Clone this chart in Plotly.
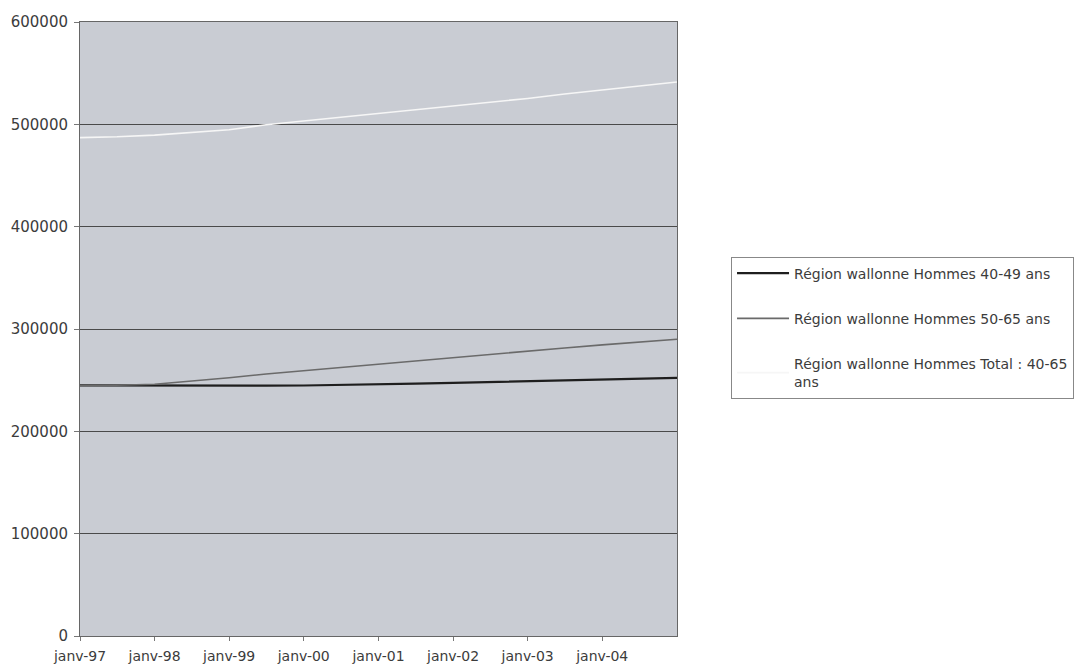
import plotly.graph_objects as go

dates = ["1997-01-01", "1997-07-01", "1998-01-01", "1998-07-01", "1999-01-01",
         "1999-07-01", "2000-01-01", "2000-07-01", "2001-01-01", "2001-07-01",
         "2002-01-01", "2002-07-01", "2003-01-01", "2003-07-01", "2004-01-01",
         "2004-07-01", "2005-01-01"]

hommes_40_49 = [245000, 244800, 244600, 244500, 244500, 244600, 244800, 245200,
                246000, 246700, 247400, 248200, 249000, 249800, 250500, 251200, 252300]

hommes_50_65 = [244800, 245000, 246000, 249000, 252300, 256000, 259300, 262200,
                265500, 269000, 272300, 275500, 278500, 281500, 284500, 287300, 290000]

hommes_total = [487000, 487800, 489500, 491800, 494700, 499600, 503300, 507100,
                510600, 514500, 518600, 521700, 525300, 529700, 533500, 536800, 541300]

tick_vals = ["1997-01-01", "1998-01-01", "1999-01-01", "2000-01-01",
             "2001-01-01", "2002-01-01", "2003-01-01", "2004-01-01"]
tick_text = ["janv-97", "janv-98", "janv-99", "janv-00",
             "janv-01", "janv-02", "janv-03", "janv-04"]

names = ["Région wallonne Hommes 40-49 ans",
         "Région wallonne Hommes 50-65 ans",
         "Région wallonne Hommes Total : 40-65<br>ans"]

fig = go.Figure()
fig.add_trace(go.Scatter(x=dates, y=hommes_40_49, mode="lines", name=names[0],
                         legendgroup="a", line=dict(color="#1e1e1e", width=2.2)))
fig.add_trace(go.Scatter(x=dates, y=hommes_50_65, mode="lines", name=names[1],
                         legendgroup="b", line=dict(color="#6a6a6a", width=1.6)))
fig.add_trace(go.Scatter(x=dates, y=hommes_total, mode="lines", name=names[2],
                         legendgroup="c", line=dict(color="#f6f6f6", width=1.6)))

fig.update_layout(
    width=1079, height=668,
    margin=dict(l=80, r=402, t=22, b=32, autoexpand=False),
    paper_bgcolor="white",
    plot_bgcolor="#c9ccd3",
    font=dict(family="DejaVu Sans, sans-serif", size=14, color="#3c3c3c"),
    showlegend=True,
    legend=dict(
        x=1.0905, y=0.618, xanchor="left", yanchor="top",
        bgcolor="white", bordercolor="#888888", borderwidth=1,
        font=dict(size=14, color="#3c3c3c"),
        tracegroupgap=24,
        itemwidth=52,
    ),
)

fig.update_xaxes(
    type="date",
    range=["1997-01-01", "2005-01-01"],
    tickvals=tick_vals, ticktext=tick_text,
    tickfont=dict(size=14),
    ticks="outside", ticklen=4, tickcolor="#777777",
    ticklabelstandoff=3,
    showgrid=False,
    showline=True, mirror=True, linecolor="#666666", linewidth=1,
    zeroline=False,
)
fig.update_yaxes(
    range=[0, 600000], dtick=100000, tickformat="d",
    tickfont=dict(size=15),
    ticks="outside", ticklen=5, tickcolor="#777777",
    ticklabelstandoff=3,
    showgrid=True, gridcolor="#4a4a4a", gridwidth=1,
    showline=True, mirror=True, linecolor="#666666", linewidth=1,
    zeroline=False,
)

fig.write_html("out.html")
